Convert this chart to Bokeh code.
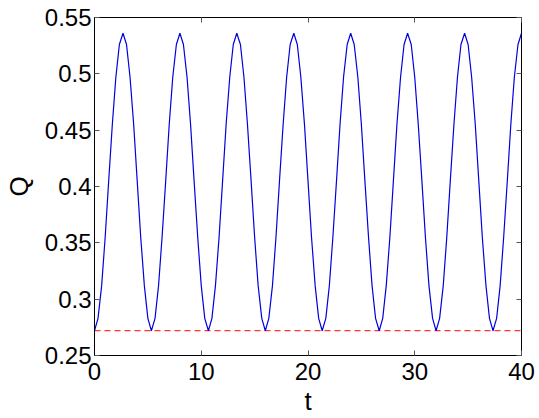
from bokeh.plotting import figure
from bokeh.models import FixedTicker, CustomJSTickFormatter, LinearAxis, Range1d
from bokeh.embed import file_html
from bokeh.resources import INLINE

# ---- data ----
t = [
    0.00, 0.33, 0.67, 1.00, 1.33, 1.67, 2.00, 2.33, 2.67, 3.00, 3.33, 3.67,
    4.00, 4.33, 4.67, 5.00, 5.33, 5.67, 6.00, 6.33, 6.67, 7.00, 7.33, 7.67,
    8.00, 8.33, 8.67, 9.00, 9.33, 9.67, 10.00, 10.33, 10.67, 11.00, 11.33, 11.67,
    12.00, 12.33, 12.67, 13.00, 13.33, 13.67, 14.00, 14.33, 14.67, 15.00, 15.33, 15.67,
    16.00, 16.33, 16.67, 17.00, 17.33, 17.67, 18.00, 18.33, 18.67, 19.00, 19.33, 19.67,
    20.00, 20.33, 20.67, 21.00, 21.33, 21.67, 22.00, 22.33, 22.67, 23.00, 23.33, 23.67,
    24.00, 24.33, 24.67, 25.00, 25.33, 25.67, 26.00, 26.33, 26.67, 27.00, 27.33, 27.67,
    28.00, 28.33, 28.67, 29.00, 29.33, 29.67, 30.00, 30.33, 30.67, 31.00, 31.33, 31.67,
    32.00, 32.33, 32.67, 33.00, 33.33, 33.67, 34.00, 34.33, 34.67, 35.00, 35.33, 35.67,
    36.00, 36.33, 36.67, 37.00, 37.33, 37.67, 38.00, 38.33, 38.67, 39.00, 39.33, 39.67,
    40.00,
]
Q = [
    0.272, 0.283, 0.312, 0.355, 0.405, 0.455, 0.497, 0.526, 0.536, 0.526, 0.497, 0.455, 0.405, 0.355, 0.312, 0.283,
    0.272, 0.283, 0.312, 0.355, 0.405, 0.455, 0.497, 0.526, 0.536, 0.526, 0.497, 0.455, 0.405, 0.355, 0.312, 0.283,
    0.272, 0.283, 0.312, 0.355, 0.405, 0.455, 0.497, 0.526, 0.536, 0.526, 0.497, 0.455, 0.405, 0.355, 0.312, 0.283,
    0.272, 0.283, 0.312, 0.355, 0.405, 0.455, 0.497, 0.526, 0.536, 0.526, 0.497, 0.455, 0.405, 0.355, 0.312, 0.283,
    0.272, 0.283, 0.312, 0.355, 0.405, 0.455, 0.497, 0.526, 0.536, 0.526, 0.497, 0.455, 0.405, 0.355, 0.312, 0.283,
    0.272, 0.283, 0.312, 0.355, 0.405, 0.455, 0.497, 0.526, 0.536, 0.526, 0.497, 0.455, 0.405, 0.355, 0.312, 0.283,
    0.272, 0.283, 0.312, 0.355, 0.405, 0.455, 0.497, 0.526, 0.536, 0.526, 0.497, 0.455, 0.405, 0.355, 0.312, 0.283,
    0.272, 0.283, 0.312, 0.355, 0.405, 0.455, 0.497, 0.526, 0.536,
]
ref_t = [0, 40]
ref_Q = [0.272, 0.272]

x_ticks = [0, 10, 20, 30, 40]
y_ticks = [0.25, 0.3, 0.35, 0.4, 0.45, 0.5, 0.55]

FONT = "Liberation Sans"

p = figure(width=539, height=418,
           x_range=Range1d(0, 40), y_range=Range1d(0.25, 0.55),
           output_backend="svg", toolbar_location=None,
           min_border_left=93, min_border_right=18,
           min_border_top=17, min_border_bottom=63)
p.background_fill_color = "white"
p.border_fill_color = "white"
p.outline_line_color = "black"
p.outline_line_width = 1
p.xgrid.visible = False
p.ygrid.visible = False

p.line(ref_t, ref_Q, line_color="#ff0000", line_width=1, line_dash="6 4")
p.line(t, Q, line_color="#0000e0", line_width=1.2)

fmt = CustomJSTickFormatter(code="return String(Math.round(tick*100)/100);")
blank = CustomJSTickFormatter(code="return '';")

for ax, ticks in ((p.xaxis[0], x_ticks), (p.yaxis[0], y_ticks)):
    ax.ticker = FixedTicker(ticks=ticks)
    ax.formatter = fmt
    ax.major_tick_in = 5
    ax.major_tick_out = 0
    ax.major_tick_line_color = "#555555"
    ax.minor_tick_line_color = None
    ax.axis_line_color = "black"
    ax.major_label_text_font = FONT
    ax.major_label_text_font_size = "24px"
    ax.major_label_text_color = "black"
    ax.axis_label_text_font = FONT
    ax.axis_label_text_font_size = "26px"
    ax.axis_label_text_font_style = "normal"
    ax.axis_label_text_color = "black"

p.xaxis.axis_label = "t"
p.yaxis.axis_label = "Q"
p.xaxis.major_label_standoff = 7
p.xaxis.axis_label_standoff = 3
p.yaxis.major_label_standoff = 3
p.yaxis.axis_label_standoff = 8

top = LinearAxis(ticker=FixedTicker(ticks=x_ticks), formatter=blank,
                 major_tick_in=5, major_tick_out=0, major_tick_line_color="#555555",
                 minor_tick_line_color=None, axis_line_color=None,
                 major_label_standoff=0)
right = LinearAxis(ticker=FixedTicker(ticks=y_ticks), formatter=blank,
                   major_tick_in=5, major_tick_out=0, major_tick_line_color="#555555",
                   minor_tick_line_color=None, axis_line_color=None,
                   major_label_standoff=0)
p.add_layout(top, "above")
p.add_layout(right, "right")

open("out.html", "w").write(file_html(p, INLINE))
